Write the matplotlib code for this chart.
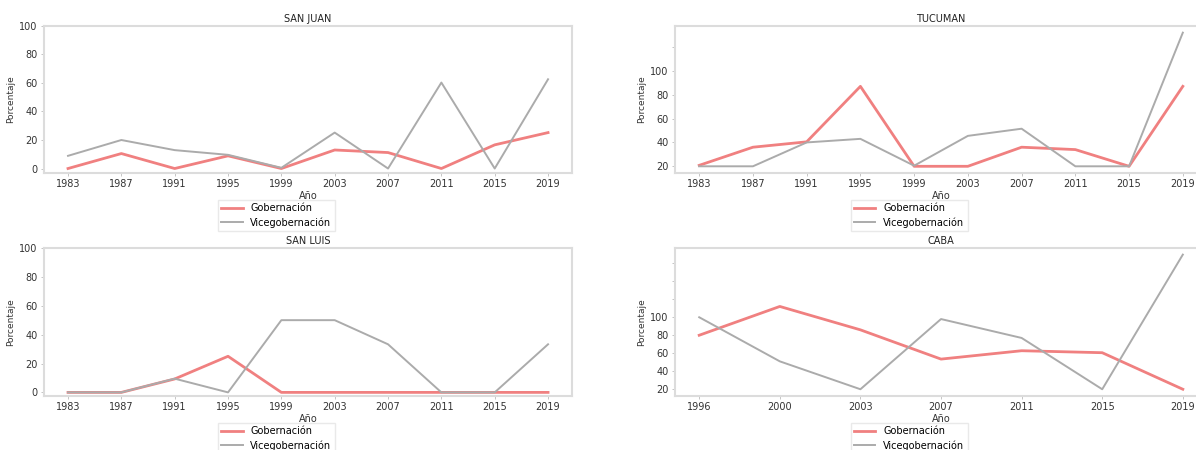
import matplotlib.pyplot as plt

years = ['1983', '1987', '1991', '1995', '1999', '2003', '2007', '2011', '2015', '2019']
years_caba = ['1996', '2000', '2003', '2007', '2011', '2015', '2019']

sanjuan_gob = [0, 10.5, 0, 8.9, 0, 13, 11.2, 0, 16.6, 25.2]
sanjuan_vice = [8.9, 20, 12.9, 9.6, 0.5, 25.2, 0, 60.3, 0, 62.6]

tucuman_gob = [20.8, 36, 40.5, 87, 20, 20, 36, 34, 20, 87]
tucuman_vice = [20, 20, 40, 43, 20.5, 45.5, 51.5, 20, 20, 132]

sanluis_gob = [0, 0, 9.3, 25, 0, 0, 0, 0, 0, 0]
sanluis_vice = [0, 0, 9.5, 0, 50, 50, 33.3, 0, 0, 33.3]

caba_gob = [80, 112, 86, 53.5, 62.8, 60.6, 20]
caba_vice = [100, 51, 20, 98, 77, 20, 169.6]

RED = '#f08080'
GRAY = '#ababab'
SPINE = '#dcdcdc'

fig = plt.figure(figsize=(11.96, 4.5), dpi=100)

panels = [
    ('SAN JUAN', years, sanjuan_gob, sanjuan_vice, [0.0368, 0.6156, 0.4415, 0.3267], (-3.13, 100), range(0, 101, 20), 100),
    ('TUCUMAN', years, tucuman_gob, tucuman_vice, [0.5644, 0.6156, 0.4448, 0.3267], (14.4, 137.6), range(20, 121, 20), 100),
    ('SAN LUIS', years, sanluis_gob, sanluis_vice, [0.0368, 0.12, 0.4415, 0.329], (-2.5, 100), range(0, 101, 20), 100),
    ('CABA', years_caba, caba_gob, caba_vice, [0.5644, 0.12, 0.4448, 0.329], (12.5, 177), range(20, 161, 20), 100),
]

for title, xs, gob, vice, pos, ylim, yt, maxlab in panels:
    ax = fig.add_axes(pos)
    idx = list(range(len(xs)))
    ax.plot(idx, gob, color=RED, linewidth=2, label='Gobernación')
    ax.plot(idx, vice, color=GRAY, linewidth=1.4, label='Vicegobernación')
    ax.set_xticks(idx)
    ax.set_xticklabels(xs)
    ax.set_yticks(list(yt))
    ax.set_yticklabels([str(v) if v <= maxlab else '' for v in yt])
    ax.set_ylim(*ylim)
    ax.set_title(title, fontsize=7, pad=3, color='#222222')
    ax.set_xlabel('Año', fontsize=7, labelpad=1, color='#333333')
    ax.set_ylabel('Porcentaje', fontsize=6.5, labelpad=3, color='#333333')
    ax.tick_params(labelsize=7, length=2.5, width=0.6, color='#bbbbbb',
                   labelcolor='#333333', pad=2)
    for s in ax.spines.values():
        s.set_color(SPINE)
        s.set_linewidth(1.5)
    ax.legend(loc='upper center', bbox_to_anchor=(0.44, -0.15), fontsize=7,
              frameon=True, edgecolor='#e4e4e4', fancybox=False,
              handlelength=2.2, borderpad=0.35, labelspacing=0.4)

plt.savefig('out.png', dpi=100)
